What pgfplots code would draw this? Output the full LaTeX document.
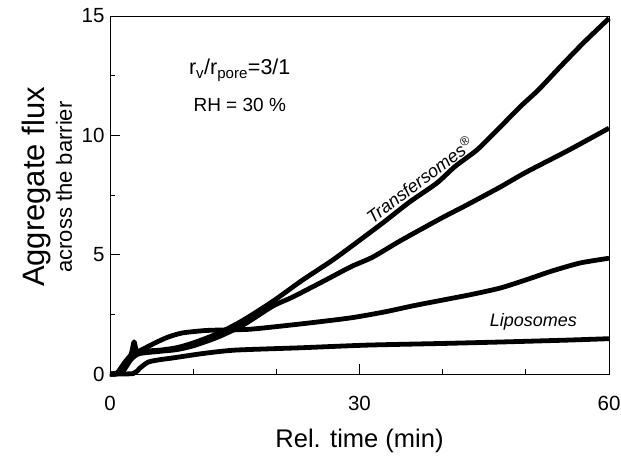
\documentclass[border=0pt]{standalone}
\usepackage{fontspec}
\setmainfont{Liberation Sans}
\usepackage{pgfplots}
\pgfplotsset{compat=1.18}
\begin{document}
\begin{tikzpicture}
\begin{axis}[
  at={(0pt,0pt)}, anchor=south west,
  scale only axis, width=499pt, height=358pt,
  xmin=0, xmax=60, ymin=0, ymax=15,
  xtick={0,30,60}, minor xtick={10,20,40,50},
  ytick={0,5,10,15}, minor ytick={2.5,7.5,12.5},
  tick align=inside, xtick pos=bottom, ytick pos=left,
  major tick length=10pt, minor tick length=5pt,
  tick style={black, line width=0.8pt},
  axis line style={line width=0.8pt},
  ticklabel style={font=\fontsize{20.5}{20.5}\selectfont},
  /pgf/number format/assume math mode=true,
  xticklabel style={yshift=-19pt},
  yticklabel style={xshift=-2pt},
  clip=false,
]
% Transfersomes (upper)
\addplot[black, line width=4.8pt, line join=round, smooth, tension=0.4] coordinates {
(0,0) (0.8,0.02) (1.8,0.5) (2.6,0.8) (4,0.95) (6,1.0) (8,1.1) (10,1.3) (13,1.7) (16,2.25) (19.6,3.05) (23,3.9) (26.8,4.78) (30,5.6) (32.8,6.33) (36,7.2) (39.3,8.0) (41.5,8.7) (44.1,9.38) (46.5,10.2) (49.3,11.19) (51.5,11.9) (54.1,12.86) (57,13.9) (60,14.9)};
% Transfersomes (lower)
\addplot[black, line width=4.8pt, line join=round, smooth, tension=0.4] coordinates {
(0,0) (1.5,0.1) (2.5,0.6) (3.5,0.85) (6,0.95) (8,1.02) (10,1.18) (13,1.55) (16,2.05) (19.6,2.85) (22,3.23) (26,3.95) (29,4.5) (31.6,4.9) (35,5.6) (39.9,6.54) (43,7.1) (46.9,7.83) (50,8.45) (55,9.35) (60,10.3)};
% middle curve
\addplot[black, line width=4.8pt, line join=round, smooth, tension=0.4] coordinates {
(0,0) (1,0.02) (2,0.4) (2.6,0.9) (2.9,1.35) (3.2,0.95) (4,1.05) (5.4,1.3) (7,1.55) (8.7,1.72) (11.4,1.82) (14,1.85) (17,1.88) (23,2.1) (28.9,2.35) (33,2.6) (36.9,2.89) (43,3.3) (46.9,3.6) (50.5,4.0) (53,4.3) (56.5,4.65) (60,4.85)};
% Liposomes
\addplot[black, line width=4.8pt, line join=round, smooth, tension=0.4] coordinates {
(0,0) (2.8,0.02) (3.6,0.25) (4.6,0.5) (6,0.6) (7.5,0.67) (11,0.85) (15,1.0) (23,1.1) (30.9,1.21) (40,1.28) (46.9,1.34) (55,1.42) (60,1.48)};

\node[font=\fontsize{21.5}{21.5}\selectfont, anchor=base] at (axis cs:15.6,12.53) {r\textsubscript{v}/r\textsubscript{pore}=3/1};
\node[font=\fontsize{19}{19}\selectfont, anchor=base] at (axis cs:15.6,10.98) {RH = 30 \%};
\node[font=\fontsize{18}{18}\selectfont, rotate=37] at (axis cs:37.2,8.15) {\textit{Transfersomes}\textsuperscript{\textregistered}};
\node[font=\fontsize{18}{18}\selectfont] at (axis cs:50.9,2.18) {\textit{Liposomes}};

\node[font=\fontsize{25.5}{25.5}\selectfont] at ([yshift=-67pt]rel axis cs:0.5,0) {Rel. time (min)};
\node[font=\fontsize{31}{31}\selectfont, rotate=90] at ([xshift=-74pt,yshift=8pt]rel axis cs:0,0.5) {Aggregate flux};
\node[font=\fontsize{22}{22}\selectfont, rotate=90] at ([xshift=-46pt,yshift=8pt]rel axis cs:0,0.5) {across the barrier};
\end{axis}
\pgfresetboundingbox
\path (-110pt,-90pt) rectangle (511pt,374pt);
\end{tikzpicture}
\end{document}
